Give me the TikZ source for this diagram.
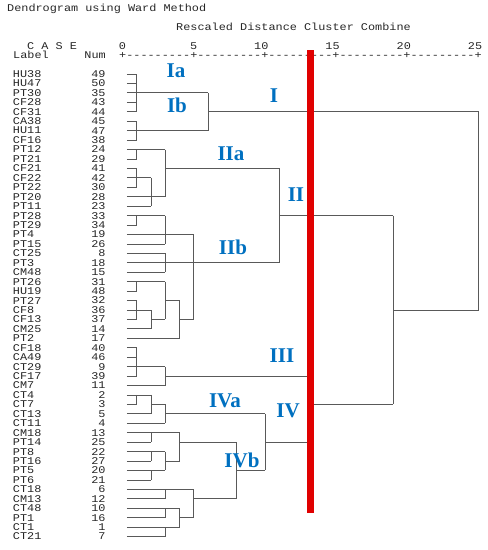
\documentclass[tikz,border=0pt]{standalone}
\usepackage{fontspec}
\setmainfont{Liberation Serif}
\setmonofont{Liberation Mono}[FakeStretch=1.15]
\definecolor{clublue}{HTML}{0070C0}
\definecolor{cutred}{HTML}{E00000}
\tikzset{
	tree/.style={draw=black!65, line width=0.8pt},
	spss/.style={font=\ttfamily\fontsize{10.3pt}{11pt}\selectfont, text=black!85, inner sep=0pt},
	clulab/.style={font=\bfseries\fontsize{21pt}{21pt}\selectfont, text=clublue, inner sep=0pt, anchor=base}
}
\begin{document}
\begin{tikzpicture}[x=1pt, y=-1pt]
	\useasboundingbox (0,0) rectangle (488,550);

	% header
	\node[spss, anchor=base west] (title) at (7,11) {Dendrogram using Ward Method};
	\node[spss, anchor=base west] (axtitle) at (176,30) {Rescaled Distance Cluster Combine};
	\node[spss, anchor=base west] (case) at (27,49) {C A S E};
	\node[spss, anchor=base west] (label) at (13,58) {Label};
	\node[spss, anchor=base east] (num) at (106,58) {Num};
	\node[spss, anchor=base west] (axis) at (119,58.4) {+---------+---------+---------+---------+---------+};
	\foreach \v in {0,5,...,25}
		\node[spss, anchor=base east] (tick\v) at ({122.5+14.25*\v+3.6},49) {\v};

	% tree: x = rescaled distance, y = row
	\begin{scope}[shift={(122.5pt,-64.56pt)}, x=14.25pt, y=-9.44pt]
		\foreach \r/\lab/\n/\j in {1/HU38/49/1, 2/HU47/50/1, 3/PT30/35/1, 4/CF28/43/1, 5/CF31/44/1,
				6/CA38/45/1, 7/HU11/47/1, 8/CF16/38/1, 9/PT12/24/1, 10/PT21/29/1,
				11/CF21/41/1, 12/CF22/42/1, 13/PT22/30/1, 14/PT20/28/2, 15/PT11/23/2,
				16/PT28/33/1, 17/PT29/34/1, 18/PT4/19/3, 19/PT15/26/3, 20/CT25/8/3,
				21/PT3/18/3, 22/CM48/15/3, 23/PT26/31/1, 24/HU19/48/1, 25/PT27/32/1,
				26/CF8/36/1, 27/CF13/37/1, 28/CM25/14/2, 29/PT2/17/4, 30/CF18/40/1,
				31/CA49/46/1, 32/CT29/9/1, 33/CF17/39/1, 34/CM7/11/3, 35/CT4/2/1,
				36/CT7/3/1, 37/CT13/5/2, 38/CT11/4/3, 39/CM18/13/2, 40/PT14/25/2,
				41/PT8/22/2, 42/PT16/27/2, 43/PT5/20/2, 44/PT6/21/2, 45/CT18/6/3,
				46/CM13/12/3, 47/CT48/10/3, 48/PT1/16/3, 49/CT1/1/3, 50/CT21/7/3}{
			\coordinate (leaf\r) at (0.3,\r);
			\node[spss, anchor=west, xshift=-114pt] (lab\r) at (leaf\r) {\lab};
			\node[spss, anchor=east, xshift=-21pt] (num\r) at (leaf\r) {\n};
			\draw[tree] (leaf\r) -- (\j,\r);
		}
		% merges: distance/top row/bottom row/output row/output end
		\foreach \d/\a/\b/\o/\e in {1/1/5/3/6, 1/6/8/7/6, 6/3/7/5/25,
				1/9/10/9/3, 1/11/13/12/2, 2/12/15/14/3, 3/9/14/11/11,
				1/16/17/16/3, 3/16/19/18/5, 3/20/22/21/5, 1/23/24/23/3,
				1/25/27/26/2, 2/26/28/27/3, 3/23/27/25/4, 4/25/29/27/5,
				5/18/27/21/11, 11/11/21/16/19,
				1/30/33/32/3, 3/32/34/33/13,
				1/35/36/35/2, 2/35/37/36/3, 3/36/38/37/10,
				2/39/40/39/4, 2/41/42/41/3, 2/43/44/43/3, 3/41/43/42/4, 4/39/42/40/8,
				3/45/46/45/5, 3/47/48/47/4, 3/49/50/49/4, 4/47/49/48/5, 5/45/48/46/8,
				8/40/46/43/10, 10/37/43/40/13, 13/33/40/36/19, 19/16/36/26/25}
			\draw[tree] (\d,\a) -- (\d,\b) (\d,\o) -- (\e,\o);
		\draw[tree] (25,5) -- (25,26);
	\end{scope}

	% cut line
	\node[fill=cutred, inner sep=0pt, minimum width=7pt, minimum height=463pt, anchor=north] (cut) at (310,50) {};

	% cluster names
	\node[clulab] (Ia) at (176,77) {Ia};
	\node[clulab] (Ib) at (177,112) {Ib};
	\node[clulab] (I) at (274,102) {I};
	\node[clulab] (IIa) at (231,160) {IIa};
	\node[clulab] (II) at (296,201) {II};
	\node[clulab] (IIb) at (233,254) {IIb};
	\node[clulab] (III) at (282,362) {III};
	\node[clulab] (IVa) at (225,407) {IVa};
	\node[clulab] (IV) at (288,417) {IV};
	\node[clulab] (IVb) at (242,467) {IVb};
\end{tikzpicture}
\end{document}
